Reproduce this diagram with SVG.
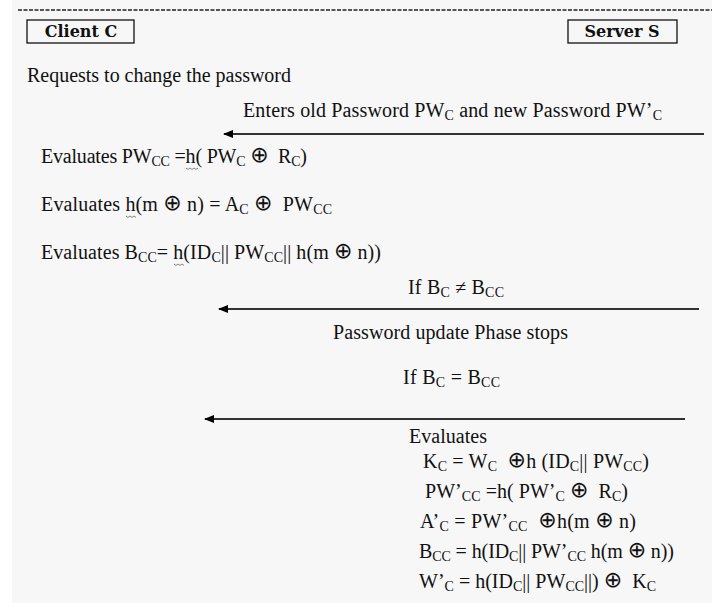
<svg xmlns="http://www.w3.org/2000/svg" width="712" height="603" viewBox="0 0 712 603">
<style>
text{font-family:"Liberation Serif","Times New Roman",serif;font-size:20px;fill:#111;white-space:pre}
.s{font-size:14px}
.o{font-family:"DejaVu Sans",sans-serif;font-size:22px}
.hd{font-family:"DejaVu Serif",serif;font-weight:bold;font-size:16px;text-anchor:middle}
.box{fill:none;stroke:#111;stroke-width:1.3}
.ar{stroke:#333;stroke-width:2;fill:none;marker-start:url(#ah)}
.sq{fill:none;stroke:#666;stroke-width:0.8}
</style>
<defs>
<marker id="ah" viewBox="0 0 10 8" refX="1" refY="4" markerWidth="10" markerHeight="8" markerUnits="userSpaceOnUse" orient="auto">
<path d="M0,4 L10,0 L10,8 Z" fill="#000"/>
</marker>
</defs>
<rect x="0" y="0" width="712" height="603" fill="#f7f7f7"/>
<rect x="0" y="0" width="12" height="603" fill="#ffffff"/>
<line x1="18" y1="10" x2="712" y2="10" stroke="#222" stroke-width="1.3" stroke-dasharray="4,1.5"/>
<g id="client">
<rect class="box" x="27" y="20" width="107" height="23"/>
<text class="hd" x="81" y="37">Client C</text>
</g>
<g id="server">
<rect class="box" x="568" y="20" width="109" height="23"/>
<text class="hd" x="622" y="37">Server S</text>
</g>
<g id="connectors">
<line class="ar" x1="224" y1="134" x2="704" y2="134"/>
<line class="ar" x1="219" y1="309" x2="699" y2="309"/>
<line class="ar" x1="205" y1="419" x2="685" y2="419"/>
</g>
<g id="client-steps">
<text x="27" y="82" textLength="264" lengthAdjust="spacing">Requests to change the password</text>
<text x="41" y="163" textLength="266" lengthAdjust="spacing">Evaluates PW<tspan class="s" dy="3">CC</tspan><tspan dy="-3"> =h( PW</tspan><tspan class="s" dy="3">C</tspan><tspan dy="-3"> </tspan><tspan class="o" dy="-1">⊕</tspan><tspan dy="1">  R</tspan><tspan class="s" dy="3">C</tspan><tspan dy="-3">)</tspan></text>
<text x="41" y="211" textLength="291" lengthAdjust="spacing">Evaluates h(m <tspan class="o" dy="-1">⊕</tspan><tspan dy="1"> n) = A</tspan><tspan class="s" dy="3">C</tspan><tspan dy="-3"> </tspan><tspan class="o" dy="-1">⊕</tspan><tspan dy="1">  PW</tspan><tspan class="s" dy="3">CC</tspan></text>
<text x="41" y="259" textLength="340" lengthAdjust="spacing">Evaluates B<tspan class="s" dy="3">CC</tspan><tspan dy="-3">= h(ID</tspan><tspan class="s" dy="3">C</tspan><tspan dy="-3">|| PW</tspan><tspan class="s" dy="3">CC</tspan><tspan dy="-3">|| h(m </tspan><tspan class="o" dy="-1">⊕</tspan><tspan dy="1"> n))</tspan></text>
<path class="sq" d="M186,168 l2,1.5 l2,-1.5 l2,1.5 l2,-1.5 l2,1.5 l2,-1.5"/>
<path class="sq" d="M126,216 l2,1.5 l2,-1.5 l2,1.5 l2,-1.5 l2,1.5"/>
<path class="sq" d="M174,264 l2,1.5 l2,-1.5 l2,1.5 l2,-1.5 l2,1.5"/>
</g>
<g id="server-steps">
<text x="243" y="117" textLength="419" lengthAdjust="spacing">Enters old Password PW<tspan class="s" dy="3">C</tspan><tspan dy="-3"> and new Password PW’</tspan><tspan class="s" dy="3">C</tspan></text>
<text x="408" y="294" textLength="96" lengthAdjust="spacing">If B<tspan class="s" dy="3">C</tspan><tspan dy="-3"> ≠ B</tspan><tspan class="s" dy="3">CC</tspan></text>
<text x="333" y="339" textLength="235" lengthAdjust="spacing">Password update Phase stops</text>
<text x="403" y="384" textLength="97" lengthAdjust="spacing">If B<tspan class="s" dy="3">C</tspan><tspan dy="-3"> = B</tspan><tspan class="s" dy="3">CC</tspan></text>
<text x="409" y="443" textLength="78" lengthAdjust="spacing">Evaluates</text>
<text x="423" y="468" textLength="226" lengthAdjust="spacing">K<tspan class="s" dy="3">C</tspan><tspan dy="-3"> = W</tspan><tspan class="s" dy="3">C</tspan><tspan dy="-3">  </tspan><tspan class="o" dy="-1">⊕</tspan><tspan dy="1">h (ID</tspan><tspan class="s" dy="3">C</tspan><tspan dy="-3">|| PW</tspan><tspan class="s" dy="3">CC</tspan><tspan dy="-3">)</tspan></text>
<text x="425" y="498" textLength="203" lengthAdjust="spacing">PW’<tspan class="s" dy="3">CC</tspan><tspan dy="-3"> =h( PW’</tspan><tspan class="s" dy="3">C</tspan><tspan dy="-3"> </tspan><tspan class="o" dy="-1">⊕</tspan><tspan dy="1">  R</tspan><tspan class="s" dy="3">C</tspan><tspan dy="-3">)</tspan></text>
<text x="420" y="528" textLength="216" lengthAdjust="spacing">A’<tspan class="s" dy="3">C</tspan><tspan dy="-3"> = PW’</tspan><tspan class="s" dy="3">CC</tspan><tspan dy="-3">  </tspan><tspan class="o" dy="-1">⊕</tspan><tspan dy="1">h(m </tspan><tspan class="o" dy="-1">⊕</tspan><tspan dy="1"> n)</tspan></text>
<text x="419" y="558" textLength="255" lengthAdjust="spacing">B<tspan class="s" dy="3">CC</tspan><tspan dy="-3"> = h(ID</tspan><tspan class="s" dy="3">C</tspan><tspan dy="-3">|| PW’</tspan><tspan class="s" dy="3">CC</tspan><tspan dy="-3"> h(m </tspan><tspan class="o" dy="-1">⊕</tspan><tspan dy="1"> n))</tspan></text>
<text x="419" y="588" textLength="237" lengthAdjust="spacing">W’<tspan class="s" dy="3">C</tspan><tspan dy="-3"> = h(ID</tspan><tspan class="s" dy="3">C</tspan><tspan dy="-3">|| PW</tspan><tspan class="s" dy="3">CC</tspan><tspan dy="-3">||) </tspan><tspan class="o" dy="-1">⊕</tspan><tspan dy="1">  K</tspan><tspan class="s" dy="3">C</tspan></text>
</g>
</svg>
